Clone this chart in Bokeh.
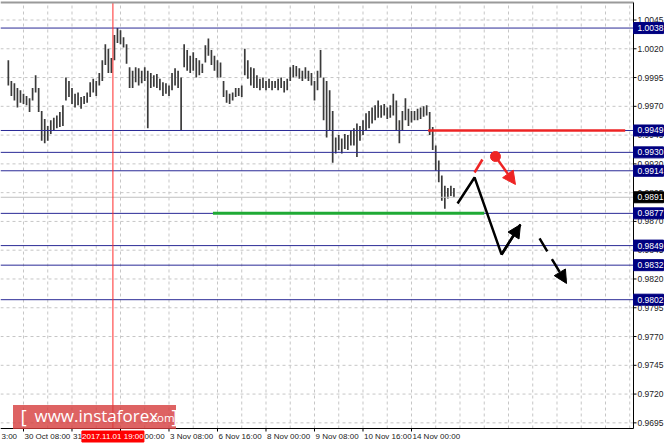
from bokeh.plotting import figure
from bokeh.models import Range1d, Arrow, NormalHead
from bokeh.core.properties import value
from bokeh.embed import file_html
from bokeh.resources import INLINE

# H1 bars, sampled every second hour; x = hours after 30 Oct 08:00
bar_hour = list(range(-10, 286, 2))
bar_high = [
    1.0010, 0.9992, 0.9990, 0.9986, 0.9984, 0.9981, 0.9979, 0.9977, 0.9986, 0.9997,
    0.9986, 0.9966, 0.9959, 0.9953, 0.9958, 0.9960, 0.9962, 0.9965, 0.9971, 0.9995,
    0.9992, 0.9986, 0.9981, 0.9982, 0.9978, 0.9979, 0.9982, 0.9991, 0.9994, 0.9992,
    0.9999, 1.0010, 1.0024, 1.0020, 1.0012, 1.0032, 1.0038, 1.0036, 1.0030, 1.0024,
    1.0004, 1.0001, 1.0004, 1.0003, 1.0001, 1.0004, 1.0001, 0.9999, 0.9997, 0.9998,
    0.9994, 0.9991, 0.9990, 0.9988, 0.9999, 1.0003, 1.0001, 0.9995, 1.0024, 1.0019,
    1.0014, 1.0017, 1.0012, 1.0010, 1.0007, 1.0023, 1.0029, 1.0019, 1.0014, 1.0010,
    1.0008, 0.9992, 0.9984, 0.9981, 0.9982, 0.9986, 0.9986, 0.9988, 1.0020, 1.0010,
    1.0004, 1.0003, 0.9997, 0.9994, 0.9995, 0.9992, 0.9994, 0.9992, 0.9992, 0.9994,
    0.9995, 0.9992, 0.9994, 1.0004, 1.0006, 1.0005, 1.0003, 1.0001, 1.0004, 1.0001,
    0.9999, 0.9992, 1.0001, 1.0019, 0.9995, 0.9992, 0.9984, 0.9966, 0.9943, 0.9945,
    0.9942, 0.9946, 0.9945, 0.9949, 0.9951, 0.9955, 0.9953, 0.9958, 0.9964, 0.9966,
    0.9969, 0.9971, 0.9975, 0.9971, 0.9972, 0.9969, 0.9971, 0.9981, 0.9975, 0.9958,
    0.9966, 0.9977, 0.9968, 0.9966, 0.9966, 0.9968, 0.9969, 0.9970, 0.9971, 0.9965,
    0.9952, 0.9936, 0.9923, 0.9910, 0.9901, 0.9899, 0.9901, 0.9899,
]
bar_low = [
    0.9988, 0.9979, 0.9975, 0.9969, 0.9973, 0.9972, 0.9971, 0.9965, 0.9975, 0.9982,
    0.9965, 0.9940, 0.9938, 0.9940, 0.9946, 0.9949, 0.9951, 0.9952, 0.9953, 0.9975,
    0.9978, 0.9972, 0.9969, 0.9971, 0.9968, 0.9972, 0.9973, 0.9978, 0.9982, 0.9979,
    0.9988, 0.9992, 1.0006, 0.9999, 0.9999, 1.0010, 1.0025, 1.0024, 1.0021, 1.0007,
    0.9986, 0.9986, 0.9991, 0.9988, 0.9990, 0.9992, 0.9951, 0.9986, 0.9987, 0.9986,
    0.9984, 0.9979, 0.9981, 0.9979, 0.9984, 0.9988, 0.9986, 0.9949, 1.0004, 1.0001,
    0.9999, 1.0001, 0.9995, 0.9997, 0.9999, 1.0008, 1.0014, 1.0006, 1.0001, 0.9995,
    0.9995, 0.9978, 0.9973, 0.9972, 0.9975, 0.9978, 0.9979, 0.9978, 0.9997, 0.9994,
    0.9988, 0.9986, 0.9986, 0.9984, 0.9986, 0.9984, 0.9986, 0.9984, 0.9986, 0.9984,
    0.9986, 0.9982, 0.9984, 0.9992, 0.9995, 0.9996, 0.9994, 0.9992, 0.9994, 0.9992,
    0.9988, 0.9975, 0.9984, 0.9995, 0.9958, 0.9943, 0.9949, 0.9921, 0.9929, 0.9932,
    0.9929, 0.9933, 0.9932, 0.9936, 0.9936, 0.9926, 0.9940, 0.9945, 0.9949, 0.9951,
    0.9955, 0.9958, 0.9960, 0.9960, 0.9962, 0.9959, 0.9960, 0.9962, 0.9949, 0.9938,
    0.9949, 0.9958, 0.9953, 0.9956, 0.9958, 0.9958, 0.9959, 0.9961, 0.9962, 0.9945,
    0.9932, 0.9914, 0.9904, 0.9888, 0.9881, 0.9890, 0.9892, 0.9891,
]

price_ticks = [1.0045, 1.0020, 0.9995, 0.9970, 0.9945, 0.9920, 0.9895, 0.9870,
               0.9845, 0.9820, 0.9795, 0.9770, 0.9745, 0.9720, 0.9695]
time_ticks = [0, 32, 64, 96, 128, 160, 192, 224, 256]
time_labels = ["30 Oct 08:00", "31 Oct 16:00", "2 Nov 00:00", "3 Nov 08:00", "6 Nov 16:00",
               "8 Nov 00:00", "9 Nov 08:00", "10 Nov 16:00", "14 Nov 00:00"]
edge_time_label = "3:00"   # tail of the label cut by the left edge
grid_hours = [-16, 0, 16, 32, 48, 64, 80, 96, 112, 128, 144, 160, 176, 192, 208, 224,
              240, 256, 272, 288, 304, 320, 336, 352, 368, 384, 400]

levels = [1.0038, 0.9949, 0.9930, 0.9914, 0.9877, 0.9849, 0.9832, 0.9802]
bid_price = 0.9891
marker_hour = 59
marker_text = "2017.11.01 19:00"

resistance_hours = [267, 397]
resistance_prices = [0.9949, 0.9949]
support_hours = [125, 304]
support_prices = [0.9877, 0.9877]

main_path_hours = [286.4, 297.6, 315.4, 327.9]
main_path_prices = [0.98856, 0.99082, 0.98413, 0.98673]
alt_hours = [340.5, 358.3]
alt_prices = [0.98552, 0.98161]
red_dash_hours = [297.6, 302.8]
red_dash_prices = [0.99125, 0.99238]
red_arrow_hours = [311.4, 324.6]
red_arrow_prices = [0.99264, 0.99021]

# ---- layout calibration (screen pixels of the terminal picture) ----
PX_BAR = 1.5156      # pixels per hour
PX_PRICE = 11510.0   # pixels per price unit
W, H = 665, 445


def rx(px):
    return (px - 23.0) / PX_BAR


def ry(py):
    return 1.0045 - (py - 19.5) / PX_PRICE


XL, XR = rx(0), rx(633)      # chart area left / right
YT, YB = ry(2), ry(428)      # chart area top / bottom
FONT = value("Liberation Sans")
WM_FONT = value("Open Sans")
NAVY = "#000080"
RED = "#ee2424"

p = figure(width=W, height=H, output_backend="svg", toolbar_location=None,
           x_range=Range1d(rx(0), rx(W)), y_range=Range1d(ry(H), ry(0)),
           x_axis_location=None, y_axis_location=None, min_border=0,
           outline_line_color=None, background_fill_color="white", border_fill_color="white")
p.grid.visible = False

# dashed grid
p.segment(x0=grid_hours, x1=grid_hours, y0=YB, y1=YT,
          line_color="#c6c6c6", line_dash="3 3", line_width=1)
p.segment(x0=XL, x1=XR, y0=price_ticks, y1=price_ticks,
          line_color="#c6c6c6", line_dash="3 3", line_width=1)

# price bars
p.segment(x0=bar_hour, y0=bar_low, x1=bar_hour, y1=bar_high,
          line_color="#3a3a3a", line_width=1.7)

# level lines, bid line, time marker
p.segment(x0=XL, x1=XR, y0=levels, y1=levels, line_color="#2a2a96", line_width=1)
p.segment(x0=XL, x1=XR, y0=bid_price, y1=bid_price, line_color="#c0c0c0", line_width=1)
p.segment(x0=marker_hour, x1=marker_hour, y0=YB, y1=YT, line_color="#ff2a2a", line_width=1)

# support / resistance
p.line(resistance_hours, resistance_prices, line_color=RED, line_width=2.5)
p.line(support_hours, support_prices, line_color="#1faa35", line_width=3)

# forecast arrows
p.line(main_path_hours, main_path_prices, line_color="black", line_width=2.5)
p.add_layout(Arrow(x_start=main_path_hours[-2], y_start=main_path_prices[-2],
                   x_end=main_path_hours[-1], y_end=main_path_prices[-1],
                   line_color="black", line_width=2.5,
                   end=NormalHead(size=13, fill_color="black", line_color="black")))
p.add_layout(Arrow(x_start=alt_hours[0], y_start=alt_prices[0],
                   x_end=alt_hours[1], y_end=alt_prices[1],
                   line_color="black", line_width=2.5, line_dash="15 9",
                   end=NormalHead(size=13, fill_color="black", line_color="black")))
p.line(red_dash_hours, red_dash_prices, line_color=RED, line_width=2.5)
p.scatter(red_arrow_hours[:1], red_arrow_prices[:1], size=10, color=RED)
p.add_layout(Arrow(x_start=red_arrow_hours[0], y_start=red_arrow_prices[0],
                   x_end=red_arrow_hours[1], y_end=red_arrow_prices[1],
                   line_color=RED, line_width=2.5,
                   end=NormalHead(size=13, fill_color=RED, line_color=RED)))

# chart frame
p.segment(x0=XL, x1=XR, y0=YT, y1=YT, line_color="#9a9a9a", line_width=2)
p.segment(x0=XR, x1=XR, y0=YB, y1=YT, line_color="black", line_width=1)
p.segment(x0=XL, x1=XR, y0=YB, y1=YB, line_color="black", line_width=1)

# price scale (right)
p.segment(x0=XR, x1=XR + 3 / PX_BAR, y0=price_ticks, y1=price_ticks, line_color="black")
p.text(x=XR, y=price_ticks, text=[f"{t:.4f}" for t in price_ticks], x_offset=4,
       text_align="left", text_baseline="middle", text_font=FONT,
       text_font_size="8.5px", text_color="#222222")

# time scale (bottom)
p.segment(x0=time_ticks, x1=time_ticks, y0=YB, y1=YB - 3 / PX_PRICE, line_color="black")
p.text(x=time_ticks, y=ry(436), text=time_labels, x_offset=1,
       text_align="left", text_baseline="middle", text_font=FONT,
       text_font_size="8px", text_color="#222222")
p.text(x=[rx(0)], y=ry(436), text=[edge_time_label], x_offset=1,
       text_align="left", text_baseline="middle", text_font=FONT,
       text_font_size="8px", text_color="#222222")

# price boxes
level_text = [f"{v:.4f}" for v in levels]
p.rect(x=rx(648), y=levels, width=30, height=11, width_units="screen", height_units="screen",
       fill_color=NAVY, line_color=NAVY)
p.text(x=XR, y=levels, text=level_text, x_offset=4, text_align="left",
       text_baseline="middle", text_font=FONT, text_font_size="8.5px", text_color="white")
p.rect(x=rx(648), y=bid_price, width=30, height=11, width_units="screen",
       height_units="screen", fill_color="black", line_color="black")
p.text(x=XR, y=bid_price, text=[f"{bid_price:.4f}"], x_offset=4, text_align="left",
       text_baseline="middle", text_font=FONT, text_font_size="8.5px", text_color="white")

# time marker box
p.rect(x=marker_hour, y=ry(436), width=62, height=11, width_units="screen",
       height_units="screen", fill_color="#ff0000", line_color="#ff0000")
p.text(x=marker_hour, y=ry(436), text=[marker_text], text_align="center",
       text_baseline="middle", text_font=FONT, text_font_size="8px", text_color="white")

# watermark
p.rect(x=rx(94), y=ry(416.5), width=163, height=24, width_units="screen",
       height_units="screen", fill_color="#d63c3c", fill_alpha=0.8, line_color=None)
p.text(x=rx(20), y=ry(415), text=["["], text_align="left", text_baseline="middle",
       text_font=WM_FONT, text_font_size="19px", text_color="white")
p.text(x=rx(34), y=ry(415), text=["www.instaforex"], text_align="left",
       text_baseline="middle", text_font=WM_FONT, text_font_size="17px",
       text_color="white")
p.text(x=rx(148), y=ry(417), text=[".com"], text_align="left", text_baseline="middle",
       text_font=WM_FONT, text_font_size="11.5px", text_color="white")
p.text(x=rx(171), y=ry(415), text=["]"], text_align="left", text_baseline="middle",
       text_font=WM_FONT, text_font_size="19px", text_color="white")

open("out.html", "w").write(file_html(p, INLINE))
